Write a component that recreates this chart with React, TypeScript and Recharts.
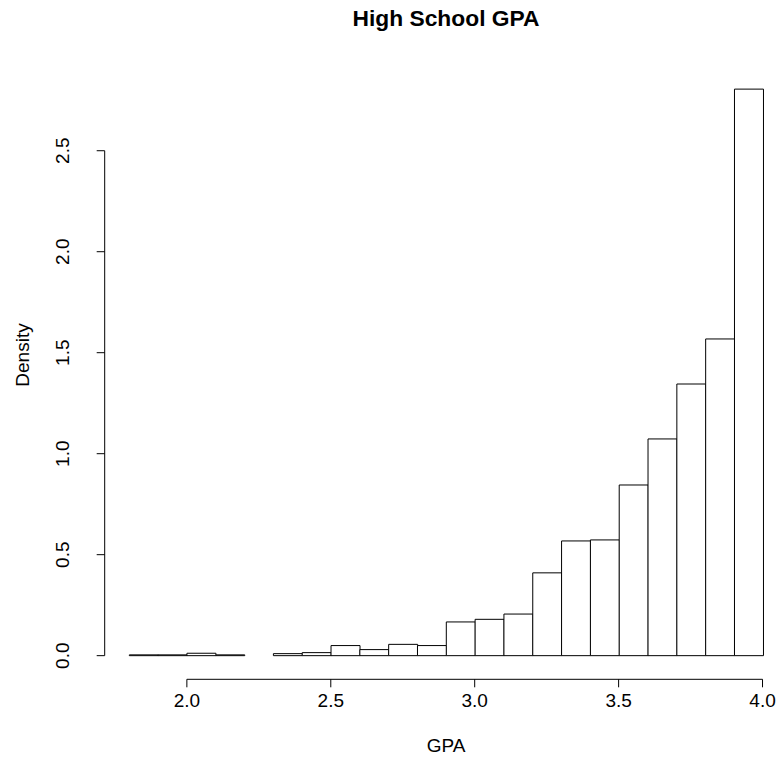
import React from "react";
import { BarChart, Bar, XAxis, YAxis, ReferenceLine, Label } from "recharts";

// histogram bins (left edges, width 0.1) and their densities
const binStarts = [
  1.8, 1.9, 2.0, 2.1, 2.2, 2.3, 2.4, 2.5, 2.6, 2.7, 2.8,
  2.9, 3.0, 3.1, 3.2, 3.3, 3.4, 3.5, 3.6, 3.7, 3.8, 3.9,
];
const densities = [
  0.004, 0.004, 0.012, 0.004, 0, 0.01, 0.015, 0.05, 0.03, 0.056, 0.05,
  0.167, 0.18, 0.206, 0.41, 0.568, 0.573, 0.845, 1.073, 1.345, 1.568, 2.805,
];
const xTicks = [2.0, 2.5, 3.0, 3.5, 4.0];
const yTicks = [0, 0.5, 1.0, 1.5, 2.0, 2.5];

const data = binStarts.map((b, i) => ({
  bin: b.toFixed(1),
  mid: b + 0.05,
  density: densities[i],
}));

const FONT = "'Liberation Sans', Arial, Helvetica, sans-serif";

const XTick = (props: any) => {
  const { x, y, payload } = props;
  return (
    <text x={x} y={y + 20} textAnchor="middle" fontSize={19} fontFamily={FONT} fill="#000">
      {Number(payload.value).toFixed(1)}
    </text>
  );
};

const YTick = (props: any) => {
  const { x, y, payload } = props;
  const tx = x - 28;
  return (
    <text
      x={tx}
      y={y}
      textAnchor="middle"
      fontSize={19}
      fontFamily={FONT}
      fill="#000"
      transform={`rotate(-90, ${tx}, ${y})`}
    >
      {Number(payload.value).toFixed(1)}
    </text>
  );
};

export default function App() {
  return (
    <div style={{ position: "absolute", left: 0, top: 0, width: 778, height: 776, overflow: "hidden", background: "#fff" }}>
      <BarChart
        width={800}
        height={776}
        data={data}
        margin={{ top: 66.5, right: 12, bottom: 66.7, left: 44.7 }}
        barCategoryGap={0}
        barGap={0}
      >
        <XAxis xAxisId="cat" dataKey="bin" hide height={0} padding={{ left: 24.6, right: 24.7 }} />
        <XAxis
          xAxisId="num"
          dataKey="mid"
          type="number"
          domain={[1.7145, 4.0885]}
          allowDataOverflow
          ticks={xTicks}
          interval={0}
          height={30}
          axisLine={false}
          tickSize={8}
          tickMargin={0}
          tickLine={{ stroke: "#000" }}
          tick={<XTick />}
        >
          <Label
            content={() => (
              <g>
                <text x={446} y={752} textAnchor="middle" fontSize={19} fontFamily={FONT} fill="#000">
                  GPA
                </text>
                <text x={446} y={26} textAnchor="middle" fontSize={22.8} fontWeight="bold" fontFamily={FONT} fill="#000">
                  High School GPA
                </text>
              </g>
            )}
          />
        </XAxis>
        <YAxis
          type="number"
          domain={[-0.117, 2.917]}
          allowDataOverflow
          ticks={yTicks}
          interval={0}
          width={60}
          axisLine={false}
          tickSize={8}
          tickMargin={0}
          tickLine={{ stroke: "#000" }}
          tick={<YTick />}
        >
          <Label
            content={() => (
              <text
                x={29}
                y={355}
                textAnchor="middle"
                fontSize={19}
                fontFamily={FONT}
                fill="#000"
                transform="rotate(-90, 29, 355)"
              >
                Density
              </text>
            )}
          />
        </YAxis>
        <ReferenceLine
          xAxisId="num"
          segment={[{ x: 2.0, y: -0.117 }, { x: 4.0, y: -0.117 }]}
          stroke="#000"
          ifOverflow="visible"
        />
        <ReferenceLine
          xAxisId="num"
          segment={[{ x: 1.7145, y: 0 }, { x: 1.7145, y: 2.5 }]}
          stroke="#000"
          ifOverflow="visible"
        />
        <Bar
          xAxisId="cat"
          dataKey="density"
          fill="#fff"
          stroke="#000"
          strokeWidth={1}
          isAnimationActive={false}
        />
      </BarChart>
    </div>
  );
}
